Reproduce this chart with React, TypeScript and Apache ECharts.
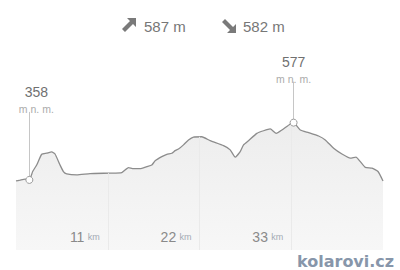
import React, { useEffect, useRef } from "react";
import * as echarts from "echarts";

// distance along route (km) and elevation (m n. m.)
const kmData = [0, 0.48, 1.08, 1.6, 2.0, 2.48, 3.08, 3.68, 4.28, 4.68, 5.28, 5.68, 6.08, 7.28, 8.88, 11.28, 12.68, 13.48, 14.08, 14.88, 15.68, 16.28, 16.68, 17.48, 18.08, 18.68, 19.08, 19.48, 20.08, 20.68, 21.28, 22.28, 23.28, 24.88, 25.68, 26.28, 26.88, 27.28, 27.88, 28.88, 29.68, 30.48, 31.2, 31.88, 32.88, 33.28, 34.08, 35.08, 36.28, 37.08, 38.08, 39.08, 40.08, 40.76, 41.28, 41.88, 42.68, 43.4, 44.0];
const elevData = [354, 357, 361, 358, 390, 415, 456, 460, 465, 457, 415, 390, 381, 377, 382, 384, 386, 405, 401, 401, 409, 415, 431, 447, 456, 460, 470, 476, 492, 511, 522, 523, 508, 489, 473, 445, 466, 492, 508, 536, 546, 553, 536, 549, 572, 577, 549, 539, 526, 511, 479, 457, 441, 445, 428, 406, 403, 390, 354];
const tickKm = [11, 22, 33];
const markerIdx = [3, 45];
const climbTotals = [587, 582];
const unitElev = "m n. m.";
const unitKm = "km";
const brand = "kolarovi.cz";

const X_MIN = 0, X_MAX = 44, Y_MIN = 90, Y_MAX = 893;
const GRID = { left: 16, right: 17, top: 40, bottom: 20 };
const H = 270;
const valPerPx = (Y_MAX - Y_MIN) / (H - GRID.top - GRID.bottom);
const stemPx = [68, 41];
const labelShift = [7, 0];

function elevAt(km: number): number {
  for (let i = 1; i < kmData.length; i++) {
    if (km <= kmData[i]) {
      const t = (km - kmData[i - 1]) / (kmData[i] - kmData[i - 1]);
      return elevData[i - 1] + t * (elevData[i] - elevData[i - 1]);
    }
  }
  return elevData[elevData.length - 1];
}

export default function App() {
  const ref = useRef<HTMLDivElement>(null);
  useEffect(() => {
    if (!ref.current) return;
    const chart = echarts.init(ref.current, null, { renderer: "svg" });

    const gridLines = tickKm.map((k) => [
      { coord: [k, Y_MIN], lineStyle: { color: "#eaeaea", width: 1, type: "solid" }, label: { show: false } },
      { coord: [k, elevAt(k)] },
    ]);
    const stems = markerIdx.map((idx, j) => [
      {
        coord: [kmData[idx], elevData[idx]],
        lineStyle: { color: "#c6c6c6", width: 1, type: "solid" },
        label: {
          show: true,
          position: "end",
          distance: -2,
          offset: [labelShift[j], 0],
          formatter: `{v|${elevData[idx]}}\n{u|${unitElev}}`,
          rich: {
            v: { fontSize: 14, color: "#707070", fontFamily: "Liberation Sans", lineHeight: 23, align: "center" },
            u: { fontSize: 10.5, color: "#ababab", fontFamily: "Liberation Sans", lineHeight: 10, align: "center" },
          },
        },
      },
      { coord: [kmData[idx], elevData[idx] + stemPx[j] * valPerPx] },
    ]);

    const arrowUp = [[136, 18], [136, 27], [133, 24], [125, 32], [122, 29], [130, 21], [127, 18]];
    const arrowDown = [[236, 33], [236, 24], [233, 27], [225, 19], [222, 22], [230, 30], [227, 33]];

    chart.setOption({
      animation: false,
      backgroundColor: "#ffffff",
      grid: { ...GRID },
      xAxis: {
        type: "value",
        min: X_MIN,
        max: X_MAX,
        interval: 11,
        z: 10,
        axisLine: { show: false },
        axisTick: { show: false },
        splitLine: { show: false },
        axisLabel: {
          inside: true,
          margin: 6,
          align: "right",
          padding: [0, 8, 0, 0],
          formatter: (v: number) => (tickKm.includes(v) ? `{n|${v}} {u|${unitKm}}` : ""),
          rich: {
            n: { fontSize: 14, color: "#8a8a8a", fontFamily: "Liberation Sans" },
            u: { fontSize: 9, color: "#a3aab4", fontFamily: "Liberation Sans" },
          },
        },
      },
      yAxis: { type: "value", min: Y_MIN, max: Y_MAX, show: false },
      series: [
        {
          type: "line",
          data: kmData.map((k, i) => [k, elevData[i]]),
          showSymbol: false,
          smooth: 0.15,
          lineStyle: { color: "#8c8c8c", width: 1.3 },
          areaStyle: {
            color: new echarts.graphic.LinearGradient(0, 0, 0, 1, [
              { offset: 0, color: "#ededed" },
              { offset: 1, color: "#f7f7f7" },
            ]),
            opacity: 1,
          },
          markLine: {
            silent: true,
            symbol: ["none", "none"],
            z: 5,
            data: [...gridLines, ...stems],
          },
          markPoint: {
            silent: true,
            z: 6,
            data: markerIdx.map((idx) => ({
              coord: [kmData[idx], elevData[idx]],
              symbol: "circle",
              symbolSize: 7,
              itemStyle: { color: "#ffffff", borderColor: "#9a9a9a", borderWidth: 1 },
              label: { show: false },
            })),
          },
        },
      ],
      graphic: [
        { type: "polygon", shape: { points: arrowUp }, style: { fill: "#7a7a7a" } },
        { type: "text", x: 144, y: 26, style: { text: `${climbTotals[0]} m`, fontSize: 15, fontFamily: "Liberation Sans", fill: "#777777", verticalAlign: "middle" } },
        { type: "polygon", shape: { points: arrowDown }, style: { fill: "#7a7a7a" } },
        { type: "text", x: 243, y: 26, style: { text: `${climbTotals[1]} m`, fontSize: 15, fontFamily: "Liberation Sans", fill: "#777777", verticalAlign: "middle" } },
        { type: "text", x: 297, y: 261, style: { text: brand, fontSize: 16, fontWeight: "bold", fontFamily: "DejaVu Sans", fill: "#8796aa", verticalAlign: "middle" } },
      ],
    });
    return () => chart.dispose();
  }, []);
  return <div ref={ref} style={{ position: "fixed", left: 0, top: 0, width: 400, height: 270 }} />;
}
